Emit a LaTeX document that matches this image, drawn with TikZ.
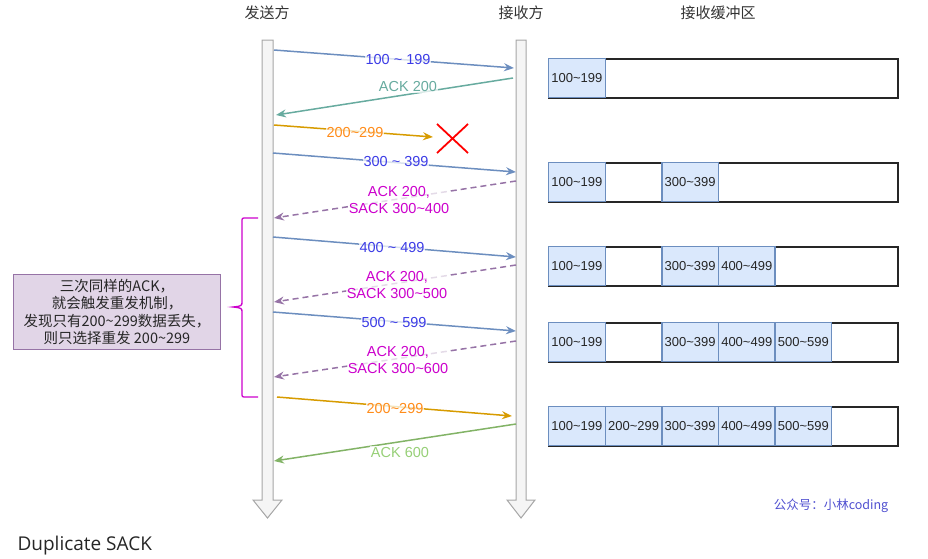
\documentclass[tikz,border=0pt]{standalone}
\usepackage{fontspec}
\setmainfont{Liberation Sans}
\newfontfamily\cjk{Noto Sans CJK SC}
\newfontfamily\capfont{Open Sans}
\usetikzlibrary{arrows.meta}
\definecolor{bline}{HTML}{6C8EBF}
\definecolor{btext}{HTML}{3C3CE6}
\definecolor{gline}{HTML}{67AB9F}
\definecolor{oline}{HTML}{D79B00}
\definecolor{otext}{HTML}{FF8C1A}
\definecolor{pline}{HTML}{9673A6}
\definecolor{mtext}{HTML}{CC00CC}
\definecolor{g2line}{HTML}{82B366}
\definecolor{g2text}{HTML}{97D077}
\definecolor{cellfill}{HTML}{DAE8FC}
\definecolor{notefill}{HTML}{E1D5E7}
\definecolor{lifefill}{HTML}{F5F5F5}
\definecolor{lifedraw}{HTML}{A6A6A6}
\definecolor{wm}{HTML}{5050D0}
\tikzset{
  life/.style={fill=lifefill,draw=lifedraw,line width=1pt,line join=miter},
  msg/.style={line width=1.5pt,-{Stealth[length=10pt,width=8pt]}},
  blue msg/.style={msg,draw=bline},
  dmsg/.style={msg,draw=pline,dashed,dash pattern=on 6pt off 4pt},
  lbl/.style={font=\fontsize{14.5}{16}\selectfont,fill=white,fill opacity=0.75,text opacity=1,inner sep=1pt},
  dlbl/.style={lbl,text=mtext,align=center,font=\fontsize{14.5}{17}\selectfont},
  buf/.style={draw=black!85,line width=1.8pt,fill=white,minimum width=349pt,minimum height=39pt,anchor=north west,inner sep=0pt},
  cell/.style={draw=bline,line width=1.3pt,fill=cellfill,minimum width=56.6pt,minimum height=39pt,anchor=north west,inner sep=0pt,font=\fontsize{13}{14}\selectfont,text=black!85},
  hdr/.style={font=\cjk\fontsize{15}{18}\selectfont,text=black!80},
}
\begin{document}
\begin{tikzpicture}[x=1pt,y=-1pt]
\useasboundingbox (0,0) rectangle (928,558);
% headers
\node[hdr] (hs) at (267,13) {发送方};
\node[hdr] (hr) at (521,13) {接收方};
\node[hdr] (hb) at (718,13) {接收缓冲区};
% lifelines
\draw[life] (262,40) -- (273,40) -- (273,500) -- (282,500) -- (267.5,518) -- (253,500) -- (262,500) -- cycle;
\draw[life] (516,40) -- (526,40) -- (526,500) -- (535,500) -- (521,518) -- (507,500) -- (516,500) -- cycle;
% endpoints
\coordinate (a1) at (274,50);  \coordinate (b1) at (514,68);
\coordinate (a2) at (513,78);  \coordinate (b2) at (276,115);
\coordinate (a3) at (274,125); \coordinate (b3) at (433,137);
\coordinate (a4) at (273,153); \coordinate (b4) at (516,172);
\coordinate (a5) at (516,181); \coordinate (b5) at (274,218);
\coordinate (a6) at (273,237); \coordinate (b6) at (516,257);
\coordinate (a7) at (516,265); \coordinate (b7) at (274,302);
\coordinate (a8) at (273,312); \coordinate (b8) at (516,331);
\coordinate (a9) at (516,341); \coordinate (b9) at (274,377);
\coordinate (a10) at (277,397); \coordinate (b10) at (512,416);
\coordinate (a11) at (516,424); \coordinate (b11) at (274,461);
% messages
\draw[blue msg] (a1) -- (b1);
\node[lbl,text=btext] (l1) at (398,60) {100 \textasciitilde{} 199};
\draw[msg,draw=gline] (a2) -- (b2);
\node[lbl,text=gline] (l2) at (408,87) {ACK 200};
\draw[msg,draw=oline] (a3) -- (b3);
\node[lbl,text=otext] (l3) at (355,133) {200\textasciitilde299};
\draw[red,line width=1.8pt] (437,124) -- (468,153) (437,153) -- (468,124);
\draw[blue msg] (a4) -- (b4);
\node[lbl,text=btext] (l4) at (396,162) {300 \textasciitilde{} 399};
\draw[dmsg] (a5) -- (b5);
\node[dlbl] (l5) at (399,200) {ACK 200,\\SACK 300\textasciitilde400};
\draw[blue msg] (a6) -- (b6);
\node[lbl,text=btext] (l6) at (392,247) {400 \textasciitilde{} 499};
\draw[dmsg] (a7) -- (b7);
\node[dlbl] (l7) at (397,285) {ACK 200,\\SACK 300\textasciitilde500};
\draw[blue msg] (a8) -- (b8);
\node[lbl,text=btext] (l8) at (394,322) {500 \textasciitilde{} 599};
\draw[dmsg] (a9) -- (b9);
\node[dlbl] (l9) at (398,360) {ACK 200,\\SACK 300\textasciitilde600};
\draw[msg,draw=oline] (a10) -- (b10);
\node[lbl,text=otext] (l10) at (395,408) {200\textasciitilde299};
\draw[msg,draw=g2line] (a11) -- (b11);
\node[lbl,text=g2text] (l11) at (400,452) {ACK 600};
% brace
\draw[mtext,line width=1.3pt] (258,218) -- (246,218) .. controls (242,218) .. (242,222) -- (242,301) .. controls (242,306) .. (233,307) .. controls (242,308) .. (242,313) -- (242,393) .. controls (242,397) .. (246,397) -- (258,397);
% note
\node[draw=pline,fill=notefill,line width=0.8pt,minimum width=207pt,minimum height=75pt,align=center,font=\cjk\fontsize{14.5}{17.5}\selectfont,text=black!85,inner sep=0pt] (note) at (117,312) {三次同样的ACK，\\就会触发重发机制，\\发现只有200\textasciitilde299数据丢失，\\则只选择重发 200\textasciitilde299};
% buffers
\node[buf] (r1) at (548,58) {};
\node[cell] (r1c1) at (548,58) {100\textasciitilde199};
\node[buf] (r2) at (548,162) {};
\node[cell] (r2c1) at (548,162) {100\textasciitilde199};
\node[cell] (r2c3) at (661.2,162) {300\textasciitilde399};
\node[buf] (r3) at (548,246) {};
\node[cell] (r3c1) at (548,246) {100\textasciitilde199};
\node[cell] (r3c3) at (661.2,246) {300\textasciitilde399};
\node[cell] (r3c4) at (717.8,246) {400\textasciitilde499};
\node[buf] (r4) at (548,322) {};
\node[cell] (r4c1) at (548,322) {100\textasciitilde199};
\node[cell] (r4c3) at (661.2,322) {300\textasciitilde399};
\node[cell] (r4c4) at (717.8,322) {400\textasciitilde499};
\node[cell] (r4c5) at (774.4,322) {500\textasciitilde599};
\node[buf] (r5) at (548,406) {};
\node[cell] (r5c1) at (548,406) {100\textasciitilde199};
\node[cell] (r5c2) at (604.6,406) {200\textasciitilde299};
\node[cell] (r5c3) at (661.2,406) {300\textasciitilde399};
\node[cell] (r5c4) at (717.8,406) {400\textasciitilde499};
\node[cell] (r5c5) at (774.4,406) {500\textasciitilde599};
% watermark and caption
\node[font=\cjk\fontsize{12.5}{14}\selectfont,text=wm] (wmk) at (831,506) {公众号：小林coding};
\node[font=\capfont\fontsize{19}{22}\selectfont,text=black!85,anchor=west] (cap) at (14,546) {Duplicate SACK};
\end{tikzpicture}
\end{document}
